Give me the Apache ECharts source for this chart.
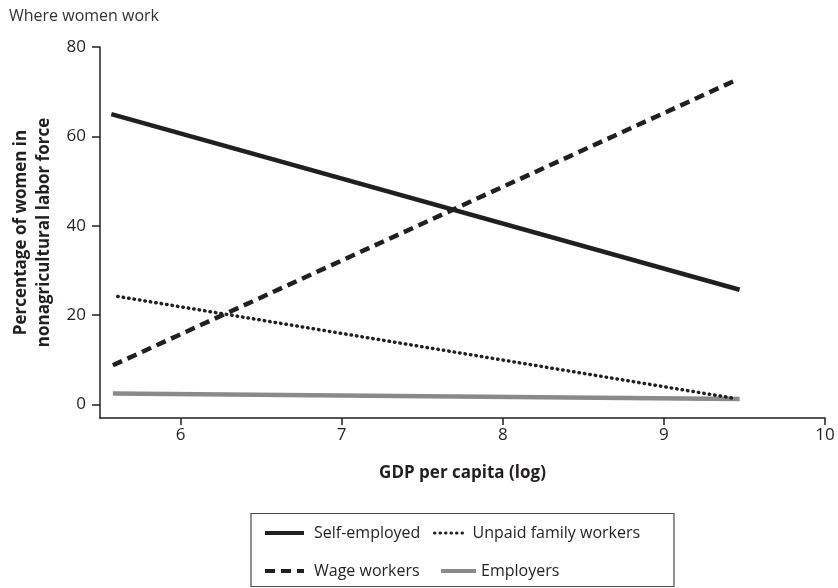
<!DOCTYPE html>
<html>
<head>
<meta charset="utf-8">
<script src="https://cdn.jsdelivr.net/npm/echarts@6/dist/echarts.min.js"></script>
<style>
html,body{margin:0;padding:0;background:#fff;}
#chart{width:838px;height:588px;}
</style>
</head>
<body>
<div id="chart"></div>
<script>
// ---- data ----
var chartTitle = 'Where women work';
var xTicks = [6, 7, 8, 9, 10];
var yTicks = [0, 20, 40, 60, 80];
var seriesNames = ['Self-employed', 'Unpaid family workers', 'Wage workers', 'Employers'];
var selfEmployedX = [5.57, 9.47];
var selfEmployedY = [65.0, 25.7];
var unpaidX = [5.61, 9.42];
var unpaidY = [24.2, 1.5];
var wageX = [5.58, 9.46];
var wageY = [8.8, 72.8];
var employersX = [5.58, 9.47];
var employersY = [2.5, 1.25];

function pairs(xs, ys) { return xs.map(function (x, i) { return [x, ys[i]]; }); }

var ink = '#231f20';
var font = 'Open Sans';

var chart = echarts.init(document.getElementById('chart'), null, { renderer: 'canvas' });

function legendItem(name, left, top, w, pad, lw) {
  return {
    data: [name],
    left: left,
    top: top,
    padding: 0,
    orient: 'horizontal',
    itemWidth: w,
    itemHeight: 14,
    selectedMode: false,
    itemStyle: { opacity: 0 },
    lineStyle: { width: lw },
    textStyle: { fontFamily: font, fontSize: 16, color: ink, padding: [0, 0, 0, pad], lineHeight: 20 }
  };
}

var option = {
  backgroundColor: '#fff',
  animation: false,
  title: {
    text: chartTitle,
    left: 4,
    top: 3,
    textStyle: { fontFamily: font, fontSize: 16, fontWeight: 'normal', color: '#333333' }
  },
  grid: { left: 100, right: 13, top: 47, bottom: 170, containLabel: false },
  xAxis: {
    type: 'value',
    min: 5.5,
    max: 10,
    name: 'GDP per capita (log)',
    nameLocation: 'middle',
    nameGap: 47,
    nameTextStyle: { fontFamily: font, fontSize: 17, fontWeight: 'bold', color: ink },
    axisLine: { show: true, onZero: false, lineStyle: { color: ink, width: 1.5 } },
    axisTick: { show: true, length: 7, customValues: xTicks, lineStyle: { color: ink, width: 1.5 } },
    axisLabel: { customValues: xTicks, margin: 9, fontFamily: font, fontSize: 17, color: ink },
    splitLine: { show: false }
  },
  yAxis: {
    type: 'value',
    min: -3,
    max: 80,
    name: 'Percentage of women in\nnonagricultural labor force',
    nameLocation: 'middle',
    nameGap: 39,
    nameTextStyle: { fontFamily: font, fontSize: 17, fontWeight: 'bold', color: ink, lineHeight: 23 },
    axisLine: { show: true, onZero: false, lineStyle: { color: ink, width: 1.5 } },
    axisTick: { show: true, length: 8, customValues: yTicks, lineStyle: { color: ink, width: 1.5 } },
    axisLabel: { customValues: yTicks, margin: 14, fontFamily: font, fontSize: 17, color: ink },
    splitLine: { show: false }
  },
  legend: [
    legendItem(seriesNames[0], 263, 523, 39, 5, 4),
    legendItem(seriesNames[1], 433, 523, 33, 0, 3),
    legendItem(seriesNames[2], 263, 561, 39, 5, 4),
    legendItem(seriesNames[3], 439, 561, 35, 0, 4)
  ],
  graphic: [{
    type: 'rect',
    shape: { x: 251, y: 513.5, width: 423, height: 73 },
    style: { fill: 'none', stroke: '#4a4a4a', lineWidth: 1.2 },
    silent: true
  }],
  series: [
    {
      name: seriesNames[0], type: 'line', symbol: 'none', showSymbol: false,
      data: pairs(selfEmployedX, selfEmployedY),
      lineStyle: { color: ink, width: 4.5, type: 'solid', cap: 'butt' },
      itemStyle: { color: ink }, z: 3
    },
    {
      name: seriesNames[1], type: 'line', symbol: 'none', showSymbol: false,
      data: pairs(unpaidX, unpaidY),
      lineStyle: { color: ink, width: 3.5, type: [0.5, 5], cap: 'round' },
      itemStyle: { color: ink }, z: 3
    },
    {
      name: seriesNames[2], type: 'line', symbol: 'none', showSymbol: false,
      data: pairs(wageX, wageY),
      lineStyle: { color: ink, width: 4.5, type: [10, 6], cap: 'butt' },
      itemStyle: { color: ink }, z: 3
    },
    {
      name: seriesNames[3], type: 'line', symbol: 'none', showSymbol: false,
      data: pairs(employersX, employersY),
      lineStyle: { color: '#8a8a8a', width: 4.5, type: 'solid', cap: 'butt' },
      itemStyle: { color: '#8a8a8a' }, z: 2
    }
  ]
};
chart.setOption(option);
</script>
</body>
</html>
